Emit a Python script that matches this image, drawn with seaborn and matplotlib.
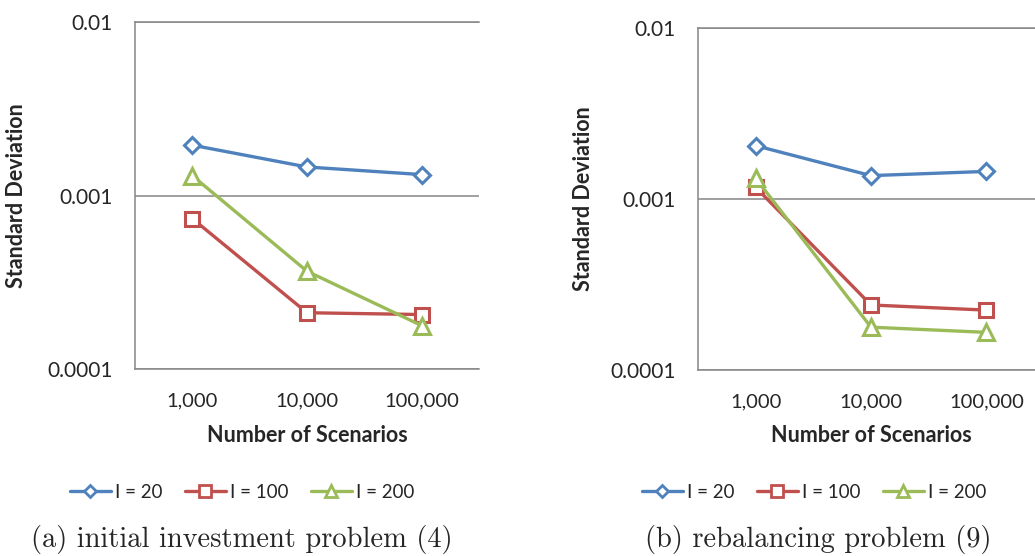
import numpy as np
import pandas as pd
import matplotlib
matplotlib.use('Agg')
import matplotlib.pyplot as plt
import seaborn as sns
from matplotlib.lines import Line2D

# Data
categories = ['1,000', '10,000', '100,000']
series_labels = ['I = 20', 'I = 100', 'I = 200']

initial_i20 = [0.00195, 0.00146, 0.00132]
initial_i100 = [0.000736, 0.000211, 0.000206]
initial_i200 = [0.00130, 0.000366, 0.000178]

rebal_i20 = [0.00205, 0.00137, 0.00145]
rebal_i100 = [0.00117, 0.000240, 0.000224]
rebal_i200 = [0.00132, 0.000178, 0.000166]

captions = ['(a) initial investment problem (4)', '(b) rebalancing problem (9)']

colors = ['#4F81BD', '#C0504D', '#9BBB59']
markers = ['D', 's', '^']
marker_sizes = [8, 10.5, 11]
grey = '#868686'

sns.set_style('white')
plt.rcParams['font.family'] = ['Lato', 'DejaVu Sans']


def long_frame(panel, vals):
    rows = []
    for lab, v in zip(series_labels, vals):
        for i, (c, y) in enumerate(zip(categories, v)):
            rows.append({'panel': panel, 'series': lab, 'pos': i, 'scenarios': c, 'sd': y})
    return rows


df = pd.DataFrame(long_frame('a', [initial_i20, initial_i100, initial_i200]) +
                  long_frame('b', [rebal_i20, rebal_i100, rebal_i200]))

fig = plt.figure(figsize=(10.35, 5.56), dpi=100)
W, H = 1035, 556
# axes boxes in pixels: left, top, right, bottom
boxes = [(135, 22, 479, 369), (698, 28, 1044, 370)]
ylabel_x = [17, 583]
legend_x = [242, 814]
caption_x = [242, 818]

for k, (panel, box) in enumerate(zip(['a', 'b'], boxes)):
    l, t, r, b = box
    ax = fig.add_axes([l / W, 1 - b / H, (r - l) / W, (b - t) / H])
    sub = df[df['panel'] == panel]
    for lab, col, mk, ms in zip(series_labels, colors, markers, marker_sizes):
        s = sub[sub['series'] == lab]
        sns.lineplot(data=s, x='pos', y='sd', ax=ax, color=col, marker=mk,
                     markersize=ms, markerfacecolor='white', markeredgecolor=col,
                     markeredgewidth=2.2, linewidth=2.4, label=lab, legend=False)

    ax.set_yscale('log')
    ax.set_ylim(1e-4, 1e-2)
    ax.set_xlim(-0.5, 2.5)
    ax.set_yticks([1e-4, 1e-3, 1e-2])
    ax.set_yticklabels(['0.0001', '0.001', '0.01'])
    ax.yaxis.set_minor_locator(matplotlib.ticker.NullLocator())
    ax.set_xticks([-0.5, 0.5, 1.5, 2.5])
    ax.set_xticklabels([])
    ax.set_xticks([0, 1, 2], minor=True)
    ax.set_xticklabels(categories, minor=True)
    ax.tick_params(axis='x', which='major', direction='out', length=6, width=1.1, color=grey)
    ax.tick_params(axis='x', which='minor', length=0, pad=17, labelsize=14.5)
    ax.tick_params(axis='y', which='major', direction='out', length=6, width=1.1,
                   color=grey, pad=10, labelsize=15)
    ax.grid(axis='y', color=grey, linewidth=1.1)
    ax.set_axisbelow(True)
    for side in ['left', 'bottom', 'top']:
        ax.spines[side].set_color(grey)
        ax.spines[side].set_linewidth(1.1)
    ax.spines['right'].set_visible(False)

    ax.set_xlabel('')
    ax.set_ylabel('')
    fig.text((l + r) / 2 / W, 1 - 435 / H, 'Number of Scenarios', ha='center', va='center',
             fontsize=15.5, fontweight='bold')
    fig.text(ylabel_x[k] / W, 1 - (t + b) / 2 / H, 'Standard Deviation', ha='center', va='center',
             rotation=90, fontsize=15.5, fontweight='bold')

    handles = [Line2D([], [], color=c, marker=m, markersize=ms * 0.8, markerfacecolor='white',
                      markeredgecolor=c, markeredgewidth=2, linewidth=2.4)
               for c, m, ms in zip(colors, markers, marker_sizes)]
    fig.legend(handles, series_labels, loc='center', bbox_to_anchor=(legend_x[k] / W, 1 - 492 / H),
               ncol=3, frameon=False, fontsize=13.5, handlelength=2.2, handletextpad=0.2,
               columnspacing=1.2)

    fig.text(caption_x[k] / W, 1 - 540 / H, captions[k], ha='center', va='center',
             fontsize=20.5, family=['cmr10', 'DejaVu Serif'])

fig.savefig('out.png', dpi=100)
